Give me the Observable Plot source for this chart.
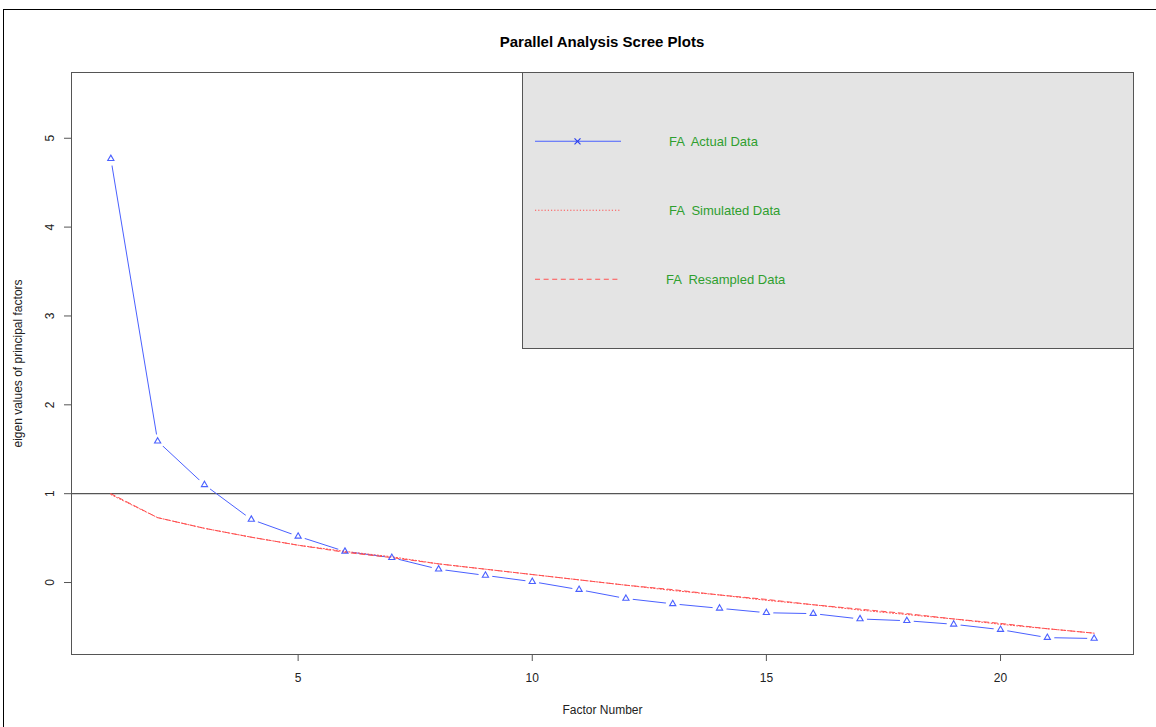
<!DOCTYPE html>
<html>
<head>
<meta charset="utf-8">
<script src="https://cdn.jsdelivr.net/npm/d3@7"></script>
<script src="https://cdn.jsdelivr.net/npm/@observablehq/plot@0.6"></script>
<style>
  body { margin: 0; background: #fff; font-family: "Liberation Sans", Arial, Helvetica, sans-serif; }
  #wrap { position: relative; width: 1156px; height: 727px; overflow: hidden; background: #fff; }
  #frame { position: absolute; left: 3px; top: 9px; width: 1200px; height: 800px; border-top: 1px solid #000; border-left: 1px solid #000; }
  #title { position: absolute; left: 0; top: 33px; width: 1204px; text-align: center; font-weight: bold; font-size: 15px; color: #000; }
  #chart { position: absolute; left: 0; top: 60px; z-index: 2; }
  #legend { position: absolute; left: 0; top: 0; z-index: 1; }
</style>
</head>
<body>
<div id="wrap">
  <div id="frame"></div>
  <div id="title">Parallel Analysis Scree Plots</div>
  <svg id="legend" width="1156" height="727"></svg>
  <div id="chart"></div>
</div>
<script>
// ---- data ----
const factors = [1, 2, 3, 4, 5, 6, 7, 8, 9, 10, 11, 12, 13, 14, 15, 16, 17, 18, 19, 20, 21, 22];
const actualData = [4.77, 1.59, 1.10, 0.71, 0.52, 0.35, 0.28, 0.15, 0.08, 0.01, -0.08, -0.18, -0.24, -0.29, -0.34, -0.35, -0.41, -0.43, -0.47, -0.53, -0.62, -0.63];
const simulatedData = [0.99, 0.73, 0.61, 0.51, 0.42, 0.35, 0.29, 0.21, 0.15, 0.09, 0.03, -0.03, -0.09, -0.14, -0.20, -0.25, -0.31, -0.36, -0.41, -0.47, -0.52, -0.57];
const resampledData = [1.00, 0.73, 0.61, 0.51, 0.42, 0.34, 0.28, 0.21, 0.15, 0.09, 0.03, -0.03, -0.08, -0.14, -0.19, -0.25, -0.30, -0.35, -0.41, -0.46, -0.52, -0.57];
const xTicks = [5, 10, 15, 20];
const yTicks = [0, 1, 2, 3, 4, 5];
const legendLabels = ["FA  Actual Data", "FA  Simulated Data", "FA  Resampled Data"];

const blue = "#4a60ff";
const red = "#ff5050";
const green = "#2f9f2f";

const actualRows = factors.map((f, i) => ({f, v: actualData[i]}));
const simRows = factors.map((f, i) => ({f, v: simulatedData[i]}));
const resRows = factors.map((f, i) => ({f, v: resampledData[i]}));

const chart = Plot.plot({
  width: 1156,
  height: 667,
  marginTop: 12,
  marginRight: 23,
  marginBottom: 73,
  marginLeft: 71,
  style: {background: "transparent", fontFamily: "Liberation Sans, Arial, sans-serif", fontSize: "12px", color: "#222"},
  x: {domain: [0.16, 22.84]},
  y: {domain: [-0.81, 5.74]},
  marks: [
    Plot.ruleY([1], {stroke: "#555", strokeWidth: 1.2}),
    Plot.lineY(actualRows, {x: "f", y: "v", stroke: blue, strokeWidth: 1}),
    Plot.dot(actualRows, {x: "f", y: "v", r: 7, fill: "white", stroke: null}),
    Plot.lineY(simRows, {x: "f", y: "v", stroke: red, strokeWidth: 1, strokeDasharray: "1.2,2"}),
    Plot.lineY(resRows, {x: "f", y: "v", stroke: red, strokeWidth: 1, strokeDasharray: "5,3.6"}),
    Plot.dot(actualRows, {x: "f", y: "v", symbol: "triangle", r: 2.3, stroke: blue, fill: "none", strokeWidth: 1.1}),
    Plot.frame({stroke: "#555"}),
    Plot.axisX(xTicks, {tickSize: 7, tickPadding: 12, stroke: "#555", label: null, tickFormat: d => d}),
    Plot.axisY(yTicks, {tickSize: 7, stroke: "#555", label: null, tickFormat: () => ""}),
    Plot.text(yTicks, {y: d => d, text: d => String(d), frameAnchor: "left", dx: -21, rotate: -90, textAnchor: "middle", lineAnchor: "middle", fill: "#222"}),
    Plot.text(["Factor Number"], {text: d => d, frameAnchor: "bottom", dy: 56, lineAnchor: "middle", fill: "#222"}),
    Plot.text(["eigen values of principal factors"], {text: d => d, frameAnchor: "left", dx: -53, rotate: -90, textAnchor: "middle", lineAnchor: "middle", fill: "#222"})
  ]
});
document.getElementById("chart").appendChild(chart);

// ---- legend (drawn below chart svg) ----
const lg = d3.select("#legend");
lg.append("rect").attr("x", 522).attr("y", 72).attr("width", 611).attr("height", 276)
  .attr("fill", "#e4e4e4");
lg.append("line").attr("x1", 522.5).attr("x2", 522.5).attr("y1", 72).attr("y2", 348.5).attr("stroke", "#555");
lg.append("line").attr("x1", 522).attr("x2", 1133).attr("y1", 348.5).attr("y2", 348.5).attr("stroke", "#555");
const legendY = [141.3, 210.3, 279.3];
const legendTextX = [669, 669, 666];
const legendDash = [null, "1.2,2", "5,3.6"];
const legendStroke = [blue, red, red];
legendLabels.forEach((lab, i) => {
  const ln = lg.append("line").attr("x1", 535).attr("x2", 621).attr("y1", legendY[i]).attr("y2", legendY[i])
    .style("stroke", legendStroke[i]).style("stroke-width", "1.1px");
  if (legendDash[i]) ln.style("stroke-dasharray", legendDash[i]);
  lg.append("text").attr("x", legendTextX[i]).attr("y", legendY[i]).attr("dy", "0.35em")
    .attr("fill", green).attr("font-size", 13).attr("font-family", "Liberation Sans, Arial, sans-serif")
    .attr("xml:space", "preserve").style("white-space", "pre").text(lab);
});
// x marker for actual data
const mx = 577.5, my = 141.3, s = 3;
lg.append("path").attr("d", `M${mx - s},${my - s}L${mx + s},${my + s}M${mx - s},${my + s}L${mx + s},${my - s}`)
  .style("stroke", "#2a3fee").style("stroke-width", "1.2px").style("fill", "none");
</script>
</body>
</html>
